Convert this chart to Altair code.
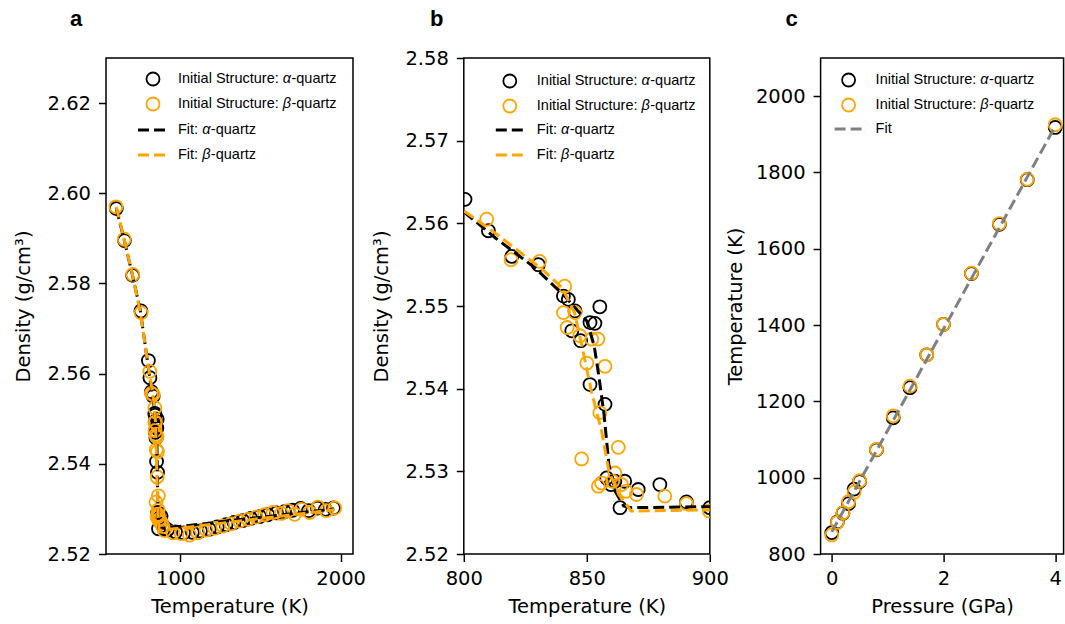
import altair as alt
import pandas as pd

# ---------------- Panel a / b : density vs temperature ----------------
# low-temperature branch (only visible in panel a)
alpha_pre_T = [600, 651, 702, 754]
alpha_pre_rho = [2.5966, 2.5895, 2.5818, 2.5739]
beta_pre_T = [598, 650, 703, 755]
beta_pre_rho = [2.5970, 2.5898, 2.5820, 2.5735]

# transition region (panel b)
alpha_b_T = [800.5, 810.0, 819.5, 830.3, 840.5, 842.5, 845.2, 843.9, 847.5, 851.3, 853.3,
             855.3, 851.3, 857.4, 858.1, 861.4, 865.4, 859.8, 863.5, 870.9, 879.7, 890.5, 900.0]
alpha_b_rho = [2.5629, 2.5591, 2.5560, 2.5550, 2.5512, 2.5508, 2.5494, 2.5470, 2.5458, 2.5480, 2.5479,
               2.5499, 2.5405, 2.5381, 2.5292, 2.5288, 2.5288, 2.5284, 2.5256, 2.5278, 2.5284, 2.5263, 2.5256]
beta_b_T = [809.3, 819.2, 830.8, 841.0, 840.5, 842.0, 845.2, 847.2, 852.0, 854.5, 850.0, 857.4, 855.3,
            862.8, 847.9, 854.7, 856.0, 861.4, 860.5, 864.1, 866.0, 870.2, 881.7, 890.5, 899.8]
beta_b_rho = [2.5605, 2.5556, 2.5554, 2.5524, 2.5492, 2.5474, 2.5492, 2.5464, 2.5460, 2.5460, 2.5431, 2.5427, 2.5371,
              2.5329, 2.5315, 2.5282, 2.5286, 2.5298, 2.5288, 2.5284, 2.5276, 2.5272, 2.5270, 2.5261, 2.5252]

# high-temperature branch (panel a)
alpha_hi_T = [920, 970, 1020, 1075, 1125, 1180, 1230, 1285, 1335, 1390, 1440,
              1495, 1545, 1600, 1650, 1700, 1750, 1800, 1855, 1905, 1955]
alpha_hi_rho = [2.5254, 2.5249, 2.5247, 2.5248, 2.5251, 2.5255, 2.5260, 2.5265, 2.5270, 2.5274, 2.5279,
                2.5283, 2.5287, 2.5291, 2.5294, 2.5297, 2.5301, 2.5296, 2.5302, 2.5299, 2.5302]
beta_hi_T = [953, 1005, 1057, 1109, 1161, 1213, 1265, 1317, 1369, 1422, 1473,
             1525, 1578, 1630, 1671, 1713, 1755, 1807, 1859, 1911, 1963]
beta_hi_rho = [2.5247, 2.5245, 2.5242, 2.5247, 2.5253, 2.5257, 2.5262, 2.5267, 2.5273, 2.5277, 2.5282,
               2.5287, 2.5292, 2.5290, 2.5296, 2.5288, 2.5299, 2.5292, 2.5304, 2.5296, 2.5302]

# fitted curves
fit_alpha_T = [600, 650, 700, 750, 800, 813, 829, 841, 850, 853, 855, 857, 859, 861.5, 865, 868, 1960]
fit_alpha_rho = [2.5967, 2.5896, 2.5820, 2.5740, 2.5614, 2.5582, 2.5546, 2.5512, 2.5482, 2.5452, 2.5413,
                 2.5369, 2.5308, 2.5276, 2.5258, 2.5256, 2.5300]
fit_beta_T = [600, 650, 700, 750, 800, 812, 832, 840, 845, 848, 852, 856, 859, 863, 868, 1960]
fit_beta_rho = [2.5970, 2.5897, 2.5821, 2.5737, 2.5615, 2.5590, 2.5544, 2.5522, 2.5492, 2.5452, 2.5395,
                2.5349, 2.5300, 2.5272, 2.5252, 2.5298]

# ---------------- Panel c : temperature vs pressure ----------------
P_alpha = [0, 0.1, 0.2, 0.3, 0.4, 0.5, 0.8, 1.1, 1.4, 1.7, 2.0, 2.5, 3.0, 3.5, 4.0]
T_alpha = [856, 884, 907, 932, 970, 990, 1073, 1157, 1236, 1322, 1402, 1535, 1664, 1781, 1918]
P_beta = [0, 0.1, 0.2, 0.3, 0.4, 0.5, 0.8, 1.1, 1.4, 1.7, 2.0, 2.5, 3.0, 3.5, 4.0]
T_beta = [850, 883, 908, 937, 962, 992, 1074, 1162, 1240, 1322, 1402, 1536, 1666, 1782, 1925]
fit_P = [0, 4]
fit_T = [858, 1921]

# ---------------- tick values / labels ----------------
a_y_ticks = [2.52, 2.54, 2.56, 2.58, 2.60, 2.62]
a_x_ticks = [1000, 2000]
b_y_ticks = [2.52, 2.53, 2.54, 2.55, 2.56, 2.57, 2.58]
b_x_ticks = [800, 850, 900]
c_y_ticks = [800, 1000, 1200, 1400, 1600, 1800, 2000]
c_x_ticks = [0, 2, 4]

# legend texts split so the Greek letter can be italic
leg_init = "Initial Structure: "
leg_fitp = "Fit: "
greek_alpha = "α"
greek_beta = "β"
leg_suffix = "-quartz"
leg_fit = "Fit"

# ---------------- styling ----------------
FONT = "DejaVu Sans"
LFONT = "Liberation Sans"
BLACK = "#000000"
ORANGE = "#FFA500"
GRAY = "#808080"
MSIZE = 169
MSTROKE = 1.8
DASH = [11, 5]
LW = 3
LEG_FS = 14.5
W_INIT = 7.225 * LEG_FS   # Arial-metric advance of "Initial Structure: "
W_FIT = 1.667 * LEG_FS    # advance of "Fit: "
W_GREEK = 0.60 * LEG_FS   # italic greek letter advance

one = pd.DataFrame({"k": [0]})


def df_of(xs, ys):
    return pd.DataFrame({"x": xs, "y": ys})


def scatter(df, X, Y, color):
    return alt.Chart(df).mark_point(shape="circle", filled=False, size=MSIZE, strokeWidth=MSTROKE,
                                    color=color, opacity=1, clip=True).encode(x=X, y=Y)


def fitline(df, X, Y, color):
    return alt.Chart(df).mark_line(color=color, strokeWidth=LW, strokeDash=DASH, clip=True).encode(
        x=X, y=Y, order=alt.Order("x:Q"))


def leg_symbol(x, y, color):
    return alt.Chart(one).mark_point(shape="circle", filled=False, size=MSIZE, strokeWidth=MSTROKE,
                                     color=color, opacity=1).encode(x=alt.value(x), y=alt.value(y))


def leg_line(x1, x2, y, color):
    return alt.Chart(one).mark_rule(color=color, strokeWidth=LW, strokeDash=DASH).encode(
        x=alt.value(x1), x2=alt.value(x2), y=alt.value(y))


def leg_text(x, y, s, italic=False):
    kw = dict(align="left", baseline="middle", font=LFONT, fontSize=LEG_FS, color="black")
    if italic:
        kw["fontStyle"] = "italic"
    return alt.Chart(one).mark_text(**kw).encode(x=alt.value(x), y=alt.value(y), text=alt.value(s))


def leg_entry(x, y, prefix, width, greek):
    return [leg_text(x, y, prefix),
            leg_text(x + width, y, greek, italic=True),
            leg_text(x + width + W_GREEK, y, leg_suffix)]


def panel_label(x, y, s):
    return alt.Chart(one).mark_text(align="center", baseline="middle", font=LFONT, fontSize=22,
                                    fontWeight="bold", color="black").encode(
        x=alt.value(x), y=alt.value(y), text=alt.value(s))


# ---------------- panel a ----------------
Xa = alt.X("x:Q", scale=alt.Scale(domain=[536, 2077], nice=False, zero=False),
           axis=alt.Axis(values=a_x_ticks, format="d", title="Temperature (K)"))
Ya = alt.Y("y:Q", scale=alt.Scale(domain=[2.52, 2.63], nice=False, zero=False),
           axis=alt.Axis(values=a_y_ticks, format=".2f", title="Density (g/cm³)", titlePadding=14))

a_alpha = df_of(alpha_pre_T + alpha_b_T + alpha_hi_T, alpha_pre_rho + alpha_b_rho + alpha_hi_rho)
a_beta = df_of(beta_pre_T + beta_b_T + beta_hi_T, beta_pre_rho + beta_b_rho + beta_hi_rho)

anchor = alt.Chart(one).mark_rule(opacity=0, strokeWidth=1).encode(
    x=alt.value(-105), x2=alt.value(-104), y=alt.value(-57))

panel_a = alt.layer(
    scatter(a_alpha, Xa, Ya, BLACK),
    scatter(a_beta, Xa, Ya, ORANGE),
    fitline(df_of(fit_alpha_T, fit_alpha_rho), Xa, Ya, BLACK),
    fitline(df_of(fit_beta_T, fit_beta_rho), Xa, Ya, ORANGE),
    leg_symbol(47, 21, BLACK), *leg_entry(72, 21, leg_init, W_INIT, greek_alpha),
    leg_symbol(47, 46, ORANGE), *leg_entry(72, 46, leg_init, W_INIT, greek_beta),
    leg_line(32, 60, 72, BLACK), *leg_entry(72, 72, leg_fitp, W_FIT, greek_alpha),
    leg_line(32, 60, 97, ORANGE), *leg_entry(72, 97, leg_fitp, W_FIT, greek_beta),
    panel_label(-30, -39, "a"),
    anchor,
).properties(width=247, height=496)

# ---------------- panel b ----------------
Xb = alt.X("x:Q", scale=alt.Scale(domain=[800, 900], nice=False, zero=False),
           axis=alt.Axis(values=b_x_ticks, format="d", title="Temperature (K)"))
Yb = alt.Y("y:Q", scale=alt.Scale(domain=[2.52, 2.58], nice=False, zero=False),
           axis=alt.Axis(values=b_y_ticks, format=".2f", title="Density (g/cm³)", titlePadding=13))

panel_b = alt.layer(
    scatter(df_of(alpha_b_T, alpha_b_rho), Xb, Yb, BLACK),
    scatter(df_of(beta_b_T, beta_b_rho), Xb, Yb, ORANGE),
    fitline(df_of(fit_alpha_T, fit_alpha_rho), Xb, Yb, BLACK),
    fitline(df_of(fit_beta_T, fit_beta_rho), Xb, Yb, ORANGE),
    leg_symbol(46, 23, BLACK), *leg_entry(73, 23, leg_init, W_INIT, greek_alpha),
    leg_symbol(46, 48, ORANGE), *leg_entry(73, 48, leg_init, W_INIT, greek_beta),
    leg_line(32, 60, 72, BLACK), *leg_entry(73, 72, leg_fitp, W_FIT, greek_alpha),
    leg_line(32, 60, 97, ORANGE), *leg_entry(73, 97, leg_fitp, W_FIT, greek_beta),
    panel_label(-27, -39, "b"),
).properties(width=246, height=496)

# ---------------- panel c ----------------
Xc = alt.X("x:Q", scale=alt.Scale(domain=[-0.2, 4.15], nice=False, zero=False),
           axis=alt.Axis(values=c_x_ticks, format="d", title="Pressure (GPa)"))
Yc = alt.Y("y:Q", scale=alt.Scale(domain=[800, 2100], nice=False, zero=False),
           axis=alt.Axis(values=c_y_ticks, format="d", title="Temperature (K)", titlePadding=10))

panel_c = alt.layer(
    scatter(df_of(P_alpha, T_alpha), Xc, Yc, BLACK),
    scatter(df_of(P_beta, T_beta), Xc, Yc, ORANGE),
    fitline(df_of(fit_P, fit_T), Xc, Yc, GRAY),
    leg_symbol(28, 22, BLACK), *leg_entry(55, 22, leg_init, W_INIT, greek_alpha),
    leg_symbol(28, 47, ORANGE), *leg_entry(55, 47, leg_init, W_INIT, greek_beta),
    leg_line(14, 43, 71, GRAY), leg_text(55, 71, leg_fit),
    panel_label(-29, -39, "c"),
).properties(width=243, height=496)

chart = alt.hconcat(panel_a, panel_b, panel_c, spacing=110.8, bounds="flush").properties(
    padding={"left": 0, "top": 0, "right": 0, "bottom": 0}
).configure_axis(
    labelFont=FONT, titleFont=FONT, labelFontSize=19.5, titleFontSize=19.5,
    titleFontWeight="normal", labelColor="black", titleColor="black",
    tickColor="black", tickSize=7.5, tickWidth=1.5, labelPadding=8,
    grid=False, domain=False, labelFlush=False, labelOverlap=False,
).configure_axisX(titlePadding=9).configure_view(
    stroke="black", strokeWidth=1.5
)

chart.save("out.html", embed_options={"renderer": "svg", "actions": False})
